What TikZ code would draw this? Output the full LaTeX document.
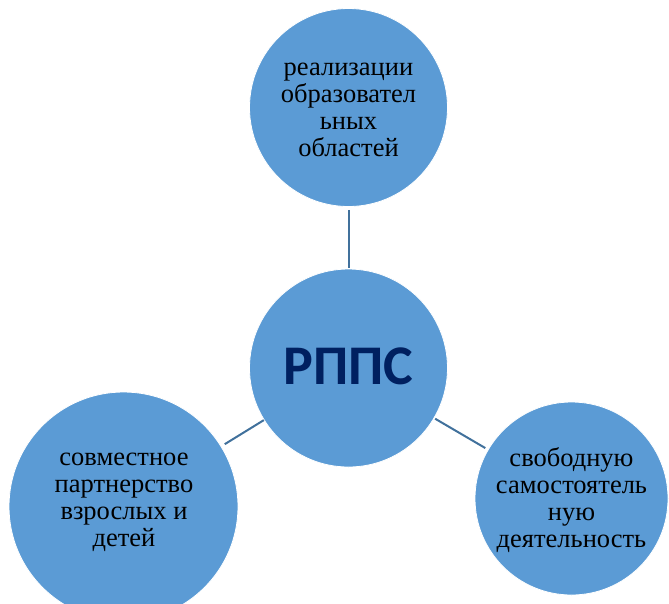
\documentclass[tikz,border=0pt]{standalone}
\usepackage{fontspec}
\setmainfont{Liberation Serif}
\newfontfamily\titlefont{Carlito}
\definecolor{circfill}{HTML}{5B9BD5}
\definecolor{linecol}{HTML}{41719C}
\definecolor{navy}{HTML}{002060}
\begin{document}
\begin{tikzpicture}[x=1pt,y=-1pt,
  bubble/.style={circle,fill=circfill,draw=white,line width=0.8pt,inner sep=0pt,align=center,
    font=\fontsize{26.5}{27}\selectfont},
  btext/.style={align=center,inner sep=0pt,font=\fontsize{26.5}{27}\selectfont},
  link/.style={draw=linecol,line width=2pt}]
\useasboundingbox (0,0) rectangle (669,603);
\begin{scope}
\clip (0,0) rectangle (669,603);
\node[bubble,minimum size=198pt] (top) at (348.5,107.5) {};
\node[btext] (ttext) at (348.5,110) {реализации\\образовател\\ьных\\областей};
\node[bubble,minimum size=198pt] (ctr) at (348.5,368) {};
\node[font=\titlefont\bfseries\fontsize{56}{60}\selectfont,text=navy] (title) at (348.5,366) {РППС};
\node[bubble,minimum size=229pt] (left) at (123.5,506.5) {};
\node[btext] (ltext) at (124,502) {совместное\\партнерство\\взрослых и\\детей};
\node[bubble,minimum size=193pt] (right) at (571.5,498.5) {};
\node[btext] (rtext) at (571.5,500) {свободную\\самостоятель\\ную\\деятельность};
\draw[link,shorten <=3pt,shorten >=1pt] (top) -- (ctr);
\draw[link,shorten <=4pt,shorten >=0pt] (left) -- (ctr);
\draw[link,shorten <=3pt,shorten >=1pt] (right) -- (ctr);
\end{scope}
\end{tikzpicture}
\end{document}
